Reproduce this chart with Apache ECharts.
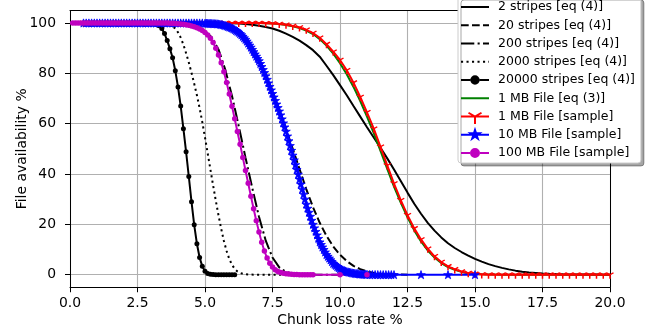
<!DOCTYPE html>
<html>
<head>
<meta charset="utf-8">
<script src="https://cdn.jsdelivr.net/npm/echarts/dist/echarts.min.js"></script>
<style>
html,body{margin:0;padding:0;background:#fff;}
#c{width:657px;height:335px;}
</style>
</head>
<body>
<div id="c"></div>
<script>
// ---------- sampling grids (x positions) ----------
function seq(a, b, s) {
  const out = [];
  const n = Math.round((b - a) / s);
  for (let i = 0; i <= n; i++) out.push(+(a + i * s).toFixed(3));
  return out;
}

// ---------- data ----------
const xTickLabels = ['0.0', '2.5', '5.0', '7.5', '10.0', '12.5', '15.0', '17.5', '20.0'];
const yTickValues = [0, 20, 40, 60, 80, 100];

const seriesNames = [
  '2 stripes [eq (4)]',
  '20 stripes [eq (4)]',
  '200 stripes [eq (4)]',
  '2000 stripes [eq (4)]',
  '20000 stripes [eq (4)]',
  '1 MB File [eq (3)]',
  '1 MB File [sample]',
  '10 MB File [sample]',
  '100 MB File [sample]'
];

// 2 stripes [eq (4)]
const x2 = seq(0, 20, 0.25);
const y2 = [100,100,100,100,100,100,100,100,100,100,100,100,100,100,100,100,100,100,100,100,100,
  99.99,99.98,99.95,99.9,99.8,99.6,99.3,98.9,98.4,97.8,96.9,95.8,94.5,93.0,91.2,89.2,86.6,83.0,79.3,
  75.3,71.3,67.0,62.8,58.6,54.5,50.4,46.2,41.8,37.2,32.6,28.2,24.2,20.6,17.5,14.8,12.5,10.6,9.0,7.6,
  6.3,5.2,4.2,3.4,2.7,2.1,1.6,1.2,0.9,0.7,0.5,0.35,0.25,0.17,0.1,0.07,0.05,0.03,0.02,0.01,0];

// 20 stripes [eq (4)]
const x20 = seq(0, 12.5, 0.25);
const y20 = [100,100,100,100,100,100,100,100,100,100,100,100,100,100,100,100,100,100,100,100,100,
  99.9,99.7,99.2,98.3,96.6,94.0,90.2,85.6,79.8,73.0,65.6,58.0,50.0,42.0,34.0,26.8,20.6,15.4,11.2,
  7.9,5.4,3.5,2.2,1.3,0.7,0.4,0.2,0.1,0.05,0];

// 200 stripes [eq (4)]
const x200 = seq(0, 10, 0.25);
const y200 = [100,100,100,100,100,100,100,100,100,100,100,100,100,
  99.95,99.9,99.8,99.6,99.3,98.8,98.1,96.6,94.3,89.5,81.5,71.0,59.0,46.5,34.5,23.0,13.5,6.8,2.9,1.1,
  0.4,0.15,0.05,0.02,0,0,0,0];

// 2000 stripes [eq (4)]
const x2000 = seq(0, 8, 0.1);
const y2000 = [100,100,100,100,100,100,100,100,100,100,100,100,100,100,100,100,100,100,100,100,
  100,100,100,100,100,100,100,100,100,100,
  99.98,99.97,99.95,99.92,99.87,99.8,99.6,99.3,98.7,97.8,96.3,94.2,91.4,88.0,84.3,80.2,75.9,71.3,66.2,60.6,
  54.5,48.2,41.8,35.5,29.4,23.6,18.2,13.4,9.4,6.2,3.9,2.3,1.3,0.7,0.35,0.15,0.07,0.03,0.01,
  0,0,0,0,0,0,0,0,0,0,0,0];

// 20000 stripes [eq (4)]
const x20000 = seq(0.5, 6.1, 0.1);
const y20000 = [100,100,100,100,100,100,100,100,100,100,100,100,100,100,100,100,100,100,100,100,
  100,100,100,100,100,
  99.9,99.8,99.5,98.9,97.8,95.8,93.0,89.8,86.2,81.0,74.6,67.0,58.0,48.8,39.0,29.0,19.8,12.3,6.8,3.3,
  1.4,0.5,0.15,0.05,
  0,0,0,0,0,0,0,0];

// 1 MB File [eq (3)]
const x1mbEq = seq(0, 20, 0.25);
const y1mbEq = [100,100,100,100,100,100,100,100,100,100,100,100,100,100,100,100,100,100,100,100,
  100,100,100,100,100,100,100,100,
  99.95,99.9,99.8,99.6,99.2,98.7,98.0,97.0,95.6,93.6,91.0,87.8,84.0,79.6,74.6,69.0,62.8,56.2,49.2,42.0,
  35.0,28.6,22.8,17.6,13.2,9.6,6.8,4.6,3.0,1.9,1.1,0.6,0.3,0.15,0.07,0.03,
  0,0,0,0,0,0,0,0,0,0,0,0,0,0,0,0,0];

// 1 MB File [sample]
const x1mb = seq(0.5, 20, 0.25);
const y1mb = [100,100,100,100,100,100,100,100,100,100,100,100,100,100,100,100,100,100,100,100,
  100,100,100,100,100,100,
  100,99.9,99.8,99.6,99.3,98.8,98.2,97.3,96.0,94.1,91.6,88.6,85.3,81.2,76.3,70.6,64.5,58.0,50.8,43.4,
  36.2,29.6,23.6,18.4,14.0,10.3,7.3,5.0,3.3,2.1,1.2,0.6,0.3,0.1,
  0,0,0,0,0,0,0,0,0,0,0,0,0,0,0,0,0,0,0];

// 10 MB File [sample]
const x10mb = [].concat(seq(0.5, 4.9, 0.1), seq(5.0, 11.0, 0.05), seq(11.1, 12.0, 0.1), [13, 14, 15]);
const y10mb = [100,100,100,100,100,100,100,100,100,100,100,100,100,100,100,100,100,100,100,100,
  100,100,100,100,100,100,100,100,100,100,100,100,100,100,100,100,100,100,100,100,
  100,100,100,100,100,
  99.9,99.9,99.85,99.85,99.8,99.8,99.75,99.7,99.7,99.65,
  99.6,99.5,99.4,99.3,99.15,99.0,98.8,98.6,98.4,98.2,
  98.0,97.7,97.4,97.0,96.7,96.3,95.8,95.3,94.7,94.1,
  93.5,92.8,92.0,91.2,90.4,89.5,88.6,87.7,86.8,85.9,
  85.0,83.9,82.7,81.5,80.3,79.0,77.6,76.2,74.8,73.4,
  72.0,70.6,69.2,67.8,66.4,65.0,63.5,61.9,60.3,58.7,
  57.0,55.1,53.2,51.3,49.4,47.5,45.6,43.7,41.8,39.9,
  38.0,36.0,34.0,32.0,30.0,28.0,26.4,24.8,23.2,21.6,
  20.0,18.6,17.2,15.8,14.4,13.0,12.0,11.0,10.0,9.0,
  8.0,7.3,6.6,5.9,5.2,4.5,4.1,3.7,3.2,2.8,
  2.4,2.15,1.9,1.7,1.45,1.2,1.1,0.95,0.85,0.7,
  0.6,0.5,0.45,0.4,0.3,0.25,0.2,0.2,0.15,0.1,
  0.1,
  0.05,0.03,0.02,0.01,0,0,0,0,0,0,
  0,0,0];

// 100 MB File [sample]
const x100mb = [].concat(seq(0.1, 9.0, 0.1), [10, 11]);
const y100mb = [100,100,100,100,100,100,100,100,100,100,100,100,100,100,100,100,100,100,100,100,
  100,100,100,100,100,100,100,100,100,100,100,100,100,100,100,
  99.95,99.9,99.85,99.8,99.7,99.6,99.5,99.3,99.1,98.8,98.5,98.1,97.6,97.0,96.2,95.2,93.9,92.2,90.0,87.3,
  84.2,80.6,76.4,71.8,66.9,61.9,56.9,51.8,46.6,41.4,36.3,31.2,26.2,21.4,17.0,12.9,9.4,6.6,4.5,3.0,
  2.0,1.3,0.9,0.6,0.4,0.25,0.15,0.1,0.05,
  0,0,0,0,0,0,
  0,0];

// ---------- helpers ----------
function pairs(xs, ys, name) {
  if (xs.length !== ys.length) console.error('length mismatch', name, xs.length, ys.length);
  return xs.map((x, i) => [x, ys[i]]);
}

const STAR = 'path://M100,0L122.45,69.1L195.1,69.1L136.3,111.8L158.8,180.9L100,138.2L41.2,180.9L63.7,111.8L4.9,69.1L77.55,69.1Z';
const TRI_DOWN = 'path://M10,10L10,20M10,10L1.34,5M10,10L18.66,5';

const LEG = {
  solid: 'path://M0,8H28V10H0Z',
  dash: 'path://M0,8H7.7V10H0Z M11,8H18.7V10H11Z M22,8H28V10H22Z',
  dashdot: 'path://M0,8H13.3V10H0Z M16.6,8H18.7V10H16.6Z M22,8H28V10H22Z',
  dot: 'path://M0,8H2.1V10H0Z M5.5,8H7.6V10H5.5Z M11,8H13.1V10H11Z M16.5,8H18.6V10H16.5Z M22,8H24.1V10H22Z M27.4,8H28V10H27.4Z',
  dotline: 'path://M0,8H9.3V10H0Z M18.7,8H28V10H18.7Z M9.3,9A4.7,4.7 0 1,1 18.7,9A4.7,4.7 0 1,1 9.3,9Z',
  tri: 'path://M0,8H28V10H0Z M13.5,9.866L7,6.116L8,4.384L14.5,8.134Z M13.5,8.134L20,4.384L21,6.116L14.5,9.866Z M13,9H15V16.5H13Z M14,1.5L14,1.5Z',
  star: 'path://M0,8H28V10H0Z M14,1L15.796,6.528L21.608,6.528L16.904,9.944L18.704,15.472L14,12.056L9.296,15.472L11.096,9.944L6.392,6.528L12.204,6.528Z M14,17L14,17Z',
  circ: 'path://M0,8H9V10H0Z M19,8H28V10H19Z M9,9A5,5 0 1,1 19,9A5,5 0 1,1 9,9Z'
};

const FONT = 'DejaVu Sans';

function lineSeries(name, data, color, lineType, extra) {
  return Object.assign({
    name: name,
    type: 'line',
    data: data,
    color: color,
    symbol: 'none',
    showSymbol: false,
    smooth: false,
    lineStyle: { color: color, width: 2, type: lineType },
    emphasis: { disabled: true },
    animation: false
  }, extra || {});
}

const series = [
  lineSeries(seriesNames[0], pairs(x2, y2, 's2'), '#000000', 'solid'),
  lineSeries(seriesNames[1], pairs(x20, y20, 's20'), '#000000', [7.7, 3.3]),
  lineSeries(seriesNames[2], pairs(x200, y200, 's200'), '#000000', [13.3, 3.3, 2.1, 3.3]),
  lineSeries(seriesNames[3], pairs(x2000, y2000, 's2000'), '#000000', [2.1, 3.4]),
  lineSeries(seriesNames[4], pairs(x20000, y20000, 's20000'), '#000000', 'solid', {
    symbol: 'circle', showSymbol: true, symbolSize: 5,
    itemStyle: { color: '#000000', borderWidth: 0 }
  }),
  lineSeries(seriesNames[5], pairs(x1mbEq, y1mbEq, 'g'), '#008000', 'solid'),
  lineSeries(seriesNames[6], pairs(x1mb, y1mb, 'r'), '#ff0000', 'solid', {
    symbol: TRI_DOWN, showSymbol: true, symbolSize: [7, 6], symbolOffset: [0, 1],
    itemStyle: { color: '#ff0000', borderColor: '#ff0000', borderWidth: 1.4 }
  }),
  lineSeries(seriesNames[7], pairs(x10mb, y10mb, 'b'), '#0000ff', 'solid', {
    symbol: STAR, showSymbol: true, symbolSize: [8.6, 8.2],
    itemStyle: { color: '#0000ff', borderColor: '#0000ff', borderWidth: 0.8 }
  }),
  lineSeries(seriesNames[8], pairs(x100mb, y100mb, 'm'), '#bf00bf', 'solid', {
    symbol: 'circle', showSymbol: true, symbolSize: 5.5,
    itemStyle: { color: '#bf00bf', borderWidth: 0 }
  })
];

const legendIcons = [LEG.solid, LEG.dash, LEG.dashdot, LEG.dot, LEG.dotline, LEG.solid, LEG.tri, LEG.star, LEG.circ];

const gridLine = { show: true, lineStyle: { color: '#b0b0b0', width: 1.1, type: 'solid', opacity: 1 } };

const chart = echarts.init(document.getElementById('c'), null, { renderer: 'canvas' });
chart.setOption({
  backgroundColor: '#ffffff',
  animation: false,
  grid: {
    left: 70, top: 10.4, width: 540, height: 276.85, show: false
  },
  xAxis: [{
    type: 'value', min: 0, max: 20, interval: 2.5, position: 'bottom',
    name: 'Chunk loss rate %', nameLocation: 'middle', nameGap: 26, nameMoveOverlap: false,
    nameTextStyle: { fontFamily: FONT, fontSize: 13.9, color: '#000' },
    axisLine: { show: true, onZero: false, lineStyle: { color: '#000', width: 1 } },
    axisTick: { show: true, length: 5, lineStyle: { color: '#000', width: 1 } },
    axisLabel: {
      fontFamily: FONT, fontSize: 13.9, color: '#000', margin: 9,
      formatter: function (v) { return xTickLabels[Math.round(v / 2.5)] || ''; }
    },
    splitLine: gridLine
  }, {
    type: 'value', min: 0, max: 20, interval: 2.5, position: 'top',
    axisLine: { show: true, onZero: false, lineStyle: { color: '#000', width: 1 } },
    axisTick: { show: false }, axisLabel: { show: false }, splitLine: { show: false }
  }],
  yAxis: [{
    type: 'value', min: -5, max: 105, position: 'left',
    name: 'File availability %', nameLocation: 'middle', nameGap: 41, nameMoveOverlap: false,
    nameTextStyle: { fontFamily: FONT, fontSize: 13.9, color: '#000' },
    axisLine: { show: true, onZero: false, lineStyle: { color: '#000', width: 1 } },
    axisTick: { show: true, length: 5, customValues: yTickValues, lineStyle: { color: '#000', width: 1 } },
    axisLabel: { fontFamily: FONT, fontSize: 13.9, color: '#000', margin: 14, customValues: yTickValues },
    splitLine: gridLine
  }, {
    type: 'value', min: -5, max: 105, position: 'right',
    axisLine: { show: true, onZero: false, lineStyle: { color: '#000', width: 1 } },
    axisTick: { show: false }, axisLabel: { show: false }, splitLine: { show: false }
  }],
  legend: {
    orient: 'vertical', align: 'left', left: 458, top: -3,
    itemWidth: 28, itemHeight: 18, itemGap: 0.25,
    padding: [1, 6, 1, 3],
    backgroundColor: '#ffffff', borderColor: '#cccccc', borderWidth: 1, borderRadius: 3,
    shadowColor: 'rgba(0,0,0,0.35)', shadowBlur: 0, shadowOffsetX: 3, shadowOffsetY: 3,
    selectedMode: false,
    itemStyle: { borderWidth: 0 },
    textStyle: { fontFamily: FONT, fontSize: 12.5, lineHeight: 18, color: '#000', padding: [0, 0, 0, 4] },
    data: seriesNames.map((n, i) => ({ name: n, icon: legendIcons[i] }))
  },
  series: series
});
</script>
</body>
</html>
